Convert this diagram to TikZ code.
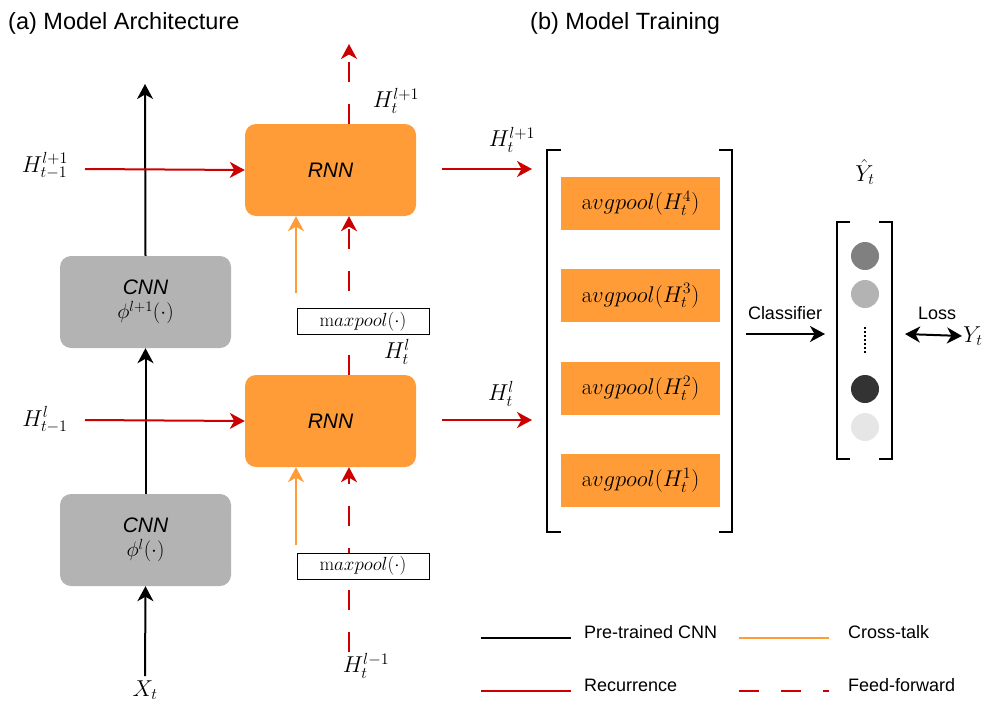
\RequirePackage{fix-cm}
\documentclass[tikz,border=0pt]{standalone}
\usepackage[no-math]{fontspec}
\setmainfont{Liberation Sans}
\usetikzlibrary{arrows.meta}

\definecolor{rnnorange}{RGB}{255,156,56}
\definecolor{cnngray}{RGB}{179,179,179}
\definecolor{recred}{RGB}{204,0,0}

\tikzset{
  headtip/.style={-{Stealth[length=15pt,width=16pt,inset=4.5pt]}},
  bothtips/.style={{Stealth[length=15pt,width=16pt,inset=4.5pt]}-{Stealth[length=15pt,width=16pt,inset=4.5pt]}},
  pretrained/.style={headtip, line width=2pt, black},
  recur/.style={headtip, line width=2pt, recred},
  feedfwd/.style={recur, dash pattern=on 20pt off 22pt},
  crosstalk/.style={headtip, line width=2pt, rnnorange},
  cnnbox/.style={rounded corners=11pt, fill=cnngray, minimum width=171pt,
    minimum height=92pt, align=center, inner sep=0pt,
    font=\fontsize{21}{24}\selectfont\itshape},
  rnnbox/.style={cnnbox, fill=rnnorange},
  poolbox/.style={draw, fill=white, line width=0.8pt, minimum width=132pt,
    minimum height=26pt, inner sep=0pt, font=\fontsize{19}{22}\selectfont},
  avgbox/.style={fill=rnnorange, minimum width=159pt, minimum height=53pt,
    inner sep=0pt, font=\fontsize{22.7}{26}\selectfont},
  mathlbl/.style={inner sep=1pt, font=\fontsize{23}{26}\selectfont},
  txtlbl/.style={inner sep=1pt, font=\fontsize{18}{21}\selectfont},
  titlelbl/.style={inner sep=0pt, anchor=west, font=\fontsize{23.5}{27}\selectfont},
  bracket/.style={line width=2.2pt, black},
  legline/.style={line width=2.5pt}
}

\begin{document}
\begin{tikzpicture}[x=1pt, y=-1pt]
  \useasboundingbox (0,0) rectangle (995,709);

  % Titles
  \node [titlelbl] (titleA) at (8,23) {(a) Model Architecture};
  \node [titlelbl] (titleB) at (530,23) {(b) Model Training};

  % CNN and RNN blocks
  \node [cnnbox] (cnnA) at (145.5,540) {CNN\\[0pt]$\phi^{l}(\cdot)$};
  \node [cnnbox] (cnnB) at (145.5,302) {CNN\\[0pt]$\phi^{l+1}(\cdot)$};
  \node [rnnbox] (rnnA) at (330.5,421) {RNN};
  \node [rnnbox] (rnnB) at (330.5,170) {RNN};

  % Labels of the inputs and hidden states
  \node [mathlbl] (xt) at (145,690) {$X_t$};
  \node [mathlbl] (hprevA) at (45,420) {$H_{t-1}^{l}$};
  \node [mathlbl] (hprevB) at (45,166) {$H_{t-1}^{l+1}$};
  \node [mathlbl] (hin) at (366,666) {$H_t^{l-1}$};
  \node [mathlbl] (hupA) at (397,352) {$H_t^{l}$};
  \node [mathlbl] (hupB) at (396,101) {$H_t^{l+1}$};
  \node [mathlbl] (houtA) at (501,394) {$H_t^{l}$};
  \node [mathlbl] (houtB) at (512,140) {$H_t^{l+1}$};

  % Free ends of the connectors
  \coordinate (cnntop) at (145,84);
  \coordinate (recA) at (85,420);
  \coordinate (recB) at (85,169);
  \coordinate (ffin) at (349,652);
  \coordinate (fftop) at (349,44);
  \coordinate (crossA) at (296,545);
  \coordinate (crossB) at (296,293);
  \coordinate (outA) at (442,420);
  \coordinate (outB) at (442,169);
  \coordinate (endA) at (532,420);
  \coordinate (endB) at (532,169);

  % Pre-trained CNN path
  \draw [pretrained, shorten <=3pt] (xt.north) -- (cnnA.south);
  \draw [pretrained] (cnnA.north) -- (cnnB.south);
  \draw [pretrained] (cnnB.north) -- (cnntop);

  % Recurrence
  \draw [recur] (recA) -- (rnnA.west);
  \draw [recur] (recB) -- (rnnB.west);
  \draw [recur] (outA) -- (endA);
  \draw [recur] (outB) -- (endB);

  % Feed-forward between the layers
  \draw [feedfwd] (ffin) -- (ffin |- rnnA.south);
  \draw [feedfwd] (ffin |- rnnA.north) -- (ffin |- rnnB.south);
  \draw [feedfwd] (ffin |- rnnB.north) -- (fftop);

  % Cross-talk from the CNN features
  \draw [crosstalk] (crossA) -- (crossA |- rnnA.south);
  \draw [crosstalk] (crossB) -- (crossB |- rnnB.south);

  % Max pooling boxes sit on top of the dashed lines
  \node [poolbox] (poolA) at (363,566) {$\mathrm{m}axpool(\cdot)$};
  \node [poolbox] (poolB) at (363,321.5) {$\mathrm{m}axpool(\cdot)$};

  % Stacked pooled features
  \draw [bracket] (561,150) -- (547,150) -- (547,532) -- (561,532);
  \draw [bracket] (719,150) -- (732,150) -- (732,532) -- (719,532);
  \foreach \k/\y in {4/203.5, 3/295.8, 2/388.2, 1/480.5} {
    \node [avgbox] (avg\k) at (640.5,\y) {$\mathrm{a}vgpool(H_t^{\k})$};
  }

  % Output vector
  \draw [bracket] (850,222) -- (837,222) -- (837,459) -- (850,459);
  \draw [bracket] (879,222) -- (892,222) -- (892,459) -- (879,459);
  \foreach \n/\y/\c in {1/256/128, 2/294/179, 3/389/51, 4/427/230} {
    \definecolor{dotc}{RGB}{\c,\c,\c}
    \node [circle, fill=dotc, minimum size=28pt, inner sep=0pt] (out\n) at (865,\y) {};
  }
  \draw [line width=2pt, dash pattern=on 2pt off 2pt, shorten <=19pt, shorten >=20pt]
    (out2.south) -- (out3.north);
  \node [mathlbl] (yhat) at (865,172) {$\hat{Y}_t$};

  % Classifier and loss
  \coordinate (clsA) at (746,334);
  \coordinate (clsB) at (825,334);
  \coordinate (lossA) at (905,334);
  \node [mathlbl, anchor=west] (yt) at (962,336) {$Y_t$};
  \draw [pretrained] (clsA) -- (clsB);
  \draw [line width=2pt, bothtips] (lossA) -- (yt.west);
  \node [txtlbl] (clsl) at (785,313) {Classifier};
  \node [txtlbl] (lossl) at (937,313) {Loss};

  % Legend
  \draw [legline, black] (481,638) coordinate (legA) -- (571,638) coordinate (legAe);
  \draw [legline, rnnorange] (739,638) coordinate (legB) -- (829,638) coordinate (legBe);
  \draw [legline, recred] (481,691) coordinate (legC) -- (571,691) coordinate (legCe);
  \draw [legline, recred, dash pattern=on 20pt off 22pt] (739,691) coordinate (legD) -- (829,691) coordinate (legDe);
  \node [txtlbl, anchor=west] (legAl) at (583,632) {Pre-trained CNN};
  \node [txtlbl, anchor=west] (legBl) at (847,632) {Cross-talk};
  \node [txtlbl, anchor=west] (legCl) at (583,685) {Recurrence};
  \node [txtlbl, anchor=west] (legDl) at (847,685) {Feed-forward};
\end{tikzpicture}
\end{document}
